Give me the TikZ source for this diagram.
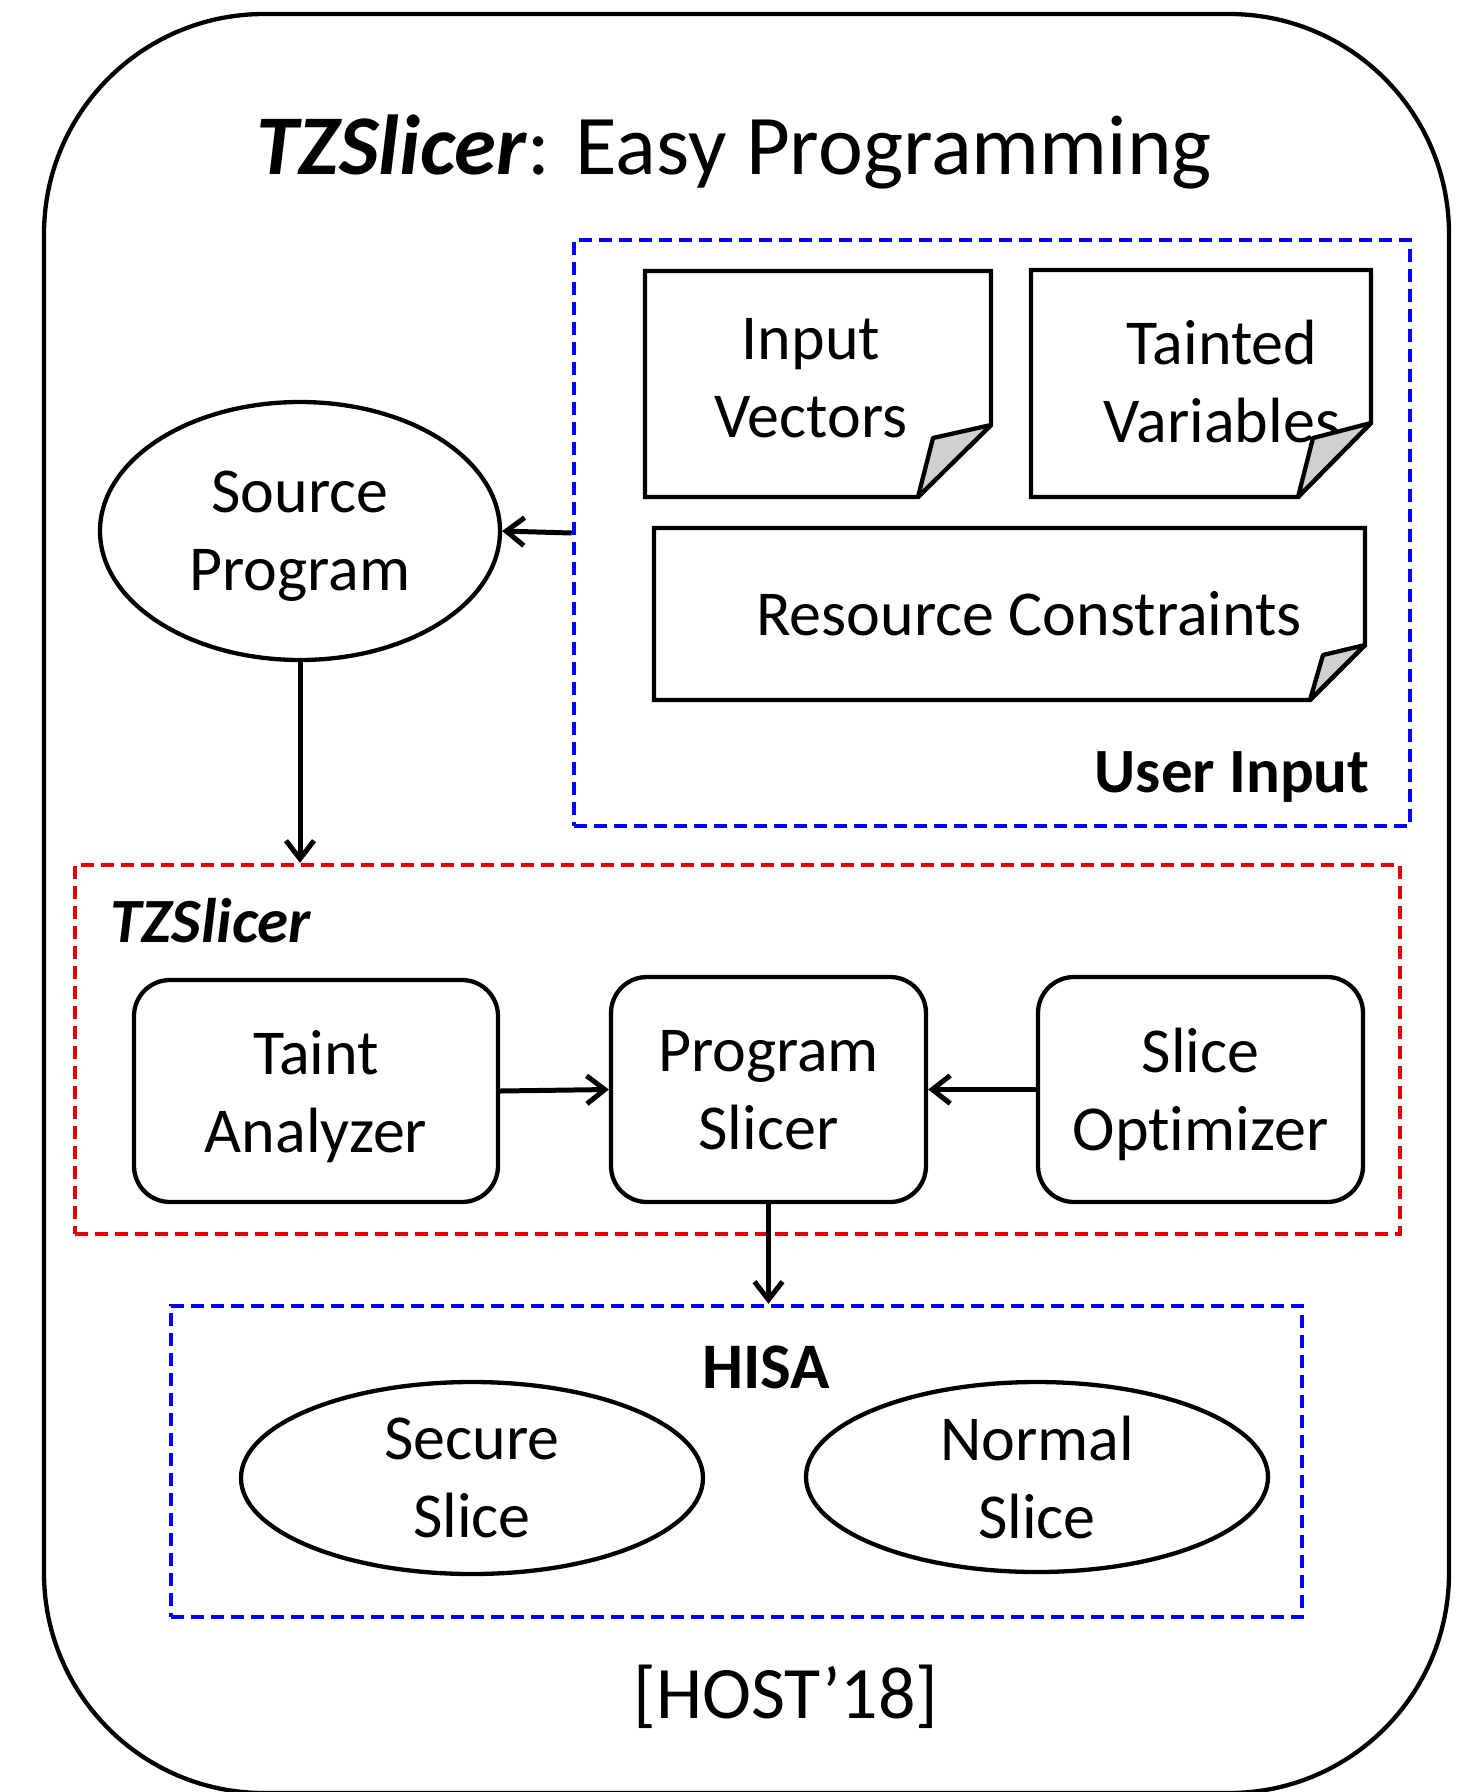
\documentclass[tikz,border=0pt]{standalone}
\usepackage{fontspec}
\setmainfont{Carlito}[Ligatures=NoCommon]
\usetikzlibrary{arrows.meta,shapes.geometric}
\definecolor{boxblue}{RGB}{0,0,255}
\definecolor{boxred}{RGB}{228,0,0}
\definecolor{foldgray}{RGB}{208,208,208}

\begin{document}
\begin{tikzpicture}[x=1pt,y=-1pt,
  body/.style={font=\fontsize{64}{78}\selectfont, align=center, text depth=0pt},
  outline/.style={draw=black, line width=4.3pt},
  blockbox/.style={outline, rounded corners=36pt, inner sep=0pt, body},
  oval/.style={outline, ellipse, inner sep=0pt, body},
  group/.style={draw=#1, line width=4.5pt, dash pattern=on 13pt off 7pt, inner sep=0pt},
  link/.style={line width=5pt, -{Straight Barb[length=18pt,width=28pt,line width=5pt]}},
  foldtri/.style={outline, fill=foldgray, line join=round},
  paper/.style={outline, line join=miter},
]
\useasboundingbox (0,0) rectangle (1475,1792);

% outer frame
\draw[outline, rounded corners=220pt] (44,14) rectangle (1449,1793);

% title
\node[anchor=base, font=\fontsize{85}{100}\selectfont] (title) at (734,174)
  {\textbf{\textit{TZSlicer}}: Easy Programming};

% user input group
\node[group=boxblue, minimum width=836pt, minimum height=586pt] (ui) at (992,533) {};
\node[anchor=east, font=\fontsize{63}{72}\selectfont\bfseries] (uilabel) at (1373,777) {User Input};

% input vectors sheet
\draw[paper] (645,271) -- (991,271) -- (991,425) -- (918,497) -- (645,497) -- cycle;
\filldraw[foldtri] (991,425) -- (933,438) -- (918,497) -- cycle;
\node[body] (iv) at (811,378) {Input\\Vectors};

% tainted variables sheet
\draw[paper] (1031,270) -- (1371,270) -- (1371,423) -- (1298,497) -- (1031,497) -- cycle;
\node[body] (tv) at (1222,381) {Tainted\\Variables};
\filldraw[foldtri] (1371,423) -- (1313,438) -- (1298,497) -- cycle;

% resource constraints sheet
\draw[paper] (654,528) -- (1365,528) -- (1365,645) -- (1310,700) -- (654,700) -- cycle;
\filldraw[foldtri] (1365,645) -- (1323,655) -- (1310,700) -- cycle;
\node[body] (rc) at (1029,613) {Resource Constraints};

% source program
\node[oval, minimum width=400pt, minimum height=258pt] (src) at (300,531) {Source\\Program};

% TZSlicer group
\node[group=boxred, minimum width=1325pt, minimum height=369pt] (tz) at (737.5,1049.5) {};
\node[anchor=west, font=\fontsize{63}{72}\selectfont\bfseries\itshape] (tzlabel) at (107,921) {TZSlicer};

\node[blockbox, minimum width=364pt, minimum height=222pt] (ta) at (316,1091) {Taint\\Analyzer};
\node[blockbox, minimum width=315pt, minimum height=225pt] (ps) at (768.5,1089.5) {Program\\Slicer};
\node[blockbox, minimum width=325pt, minimum height=225pt] (so) at (1200.5,1089.5) {Slice\\Optimizer};

% HISA group
\node[group=boxblue, minimum width=1131pt, minimum height=311pt] (hisa) at (736.5,1461.5) {};
\node[font=\fontsize{65}{72}\selectfont\bfseries] (hisalabel) at (766,1367) {HISA};
\node[oval, minimum width=462pt, minimum height=192pt] (sec) at (472,1478) {Secure\\Slice};
\node[oval, minimum width=462pt, minimum height=190pt] (nor) at (1037,1477) {Normal\\Slice};

% venue
\node[font=\fontsize{74}{86}\selectfont] (venue) at (786,1697) {[HOST’18]};

% connectors
\draw[link] (ui.west) -- (src.east);
\draw[link] (src.south) -- (src.south |- tz.north);
\draw[link] (ta.east) -- (ps.west);
\draw[link] (so.west) -- (ps.east);
\draw[link] (ps.south) -- (ps.south |- hisa.north);
\end{tikzpicture}
\end{document}
